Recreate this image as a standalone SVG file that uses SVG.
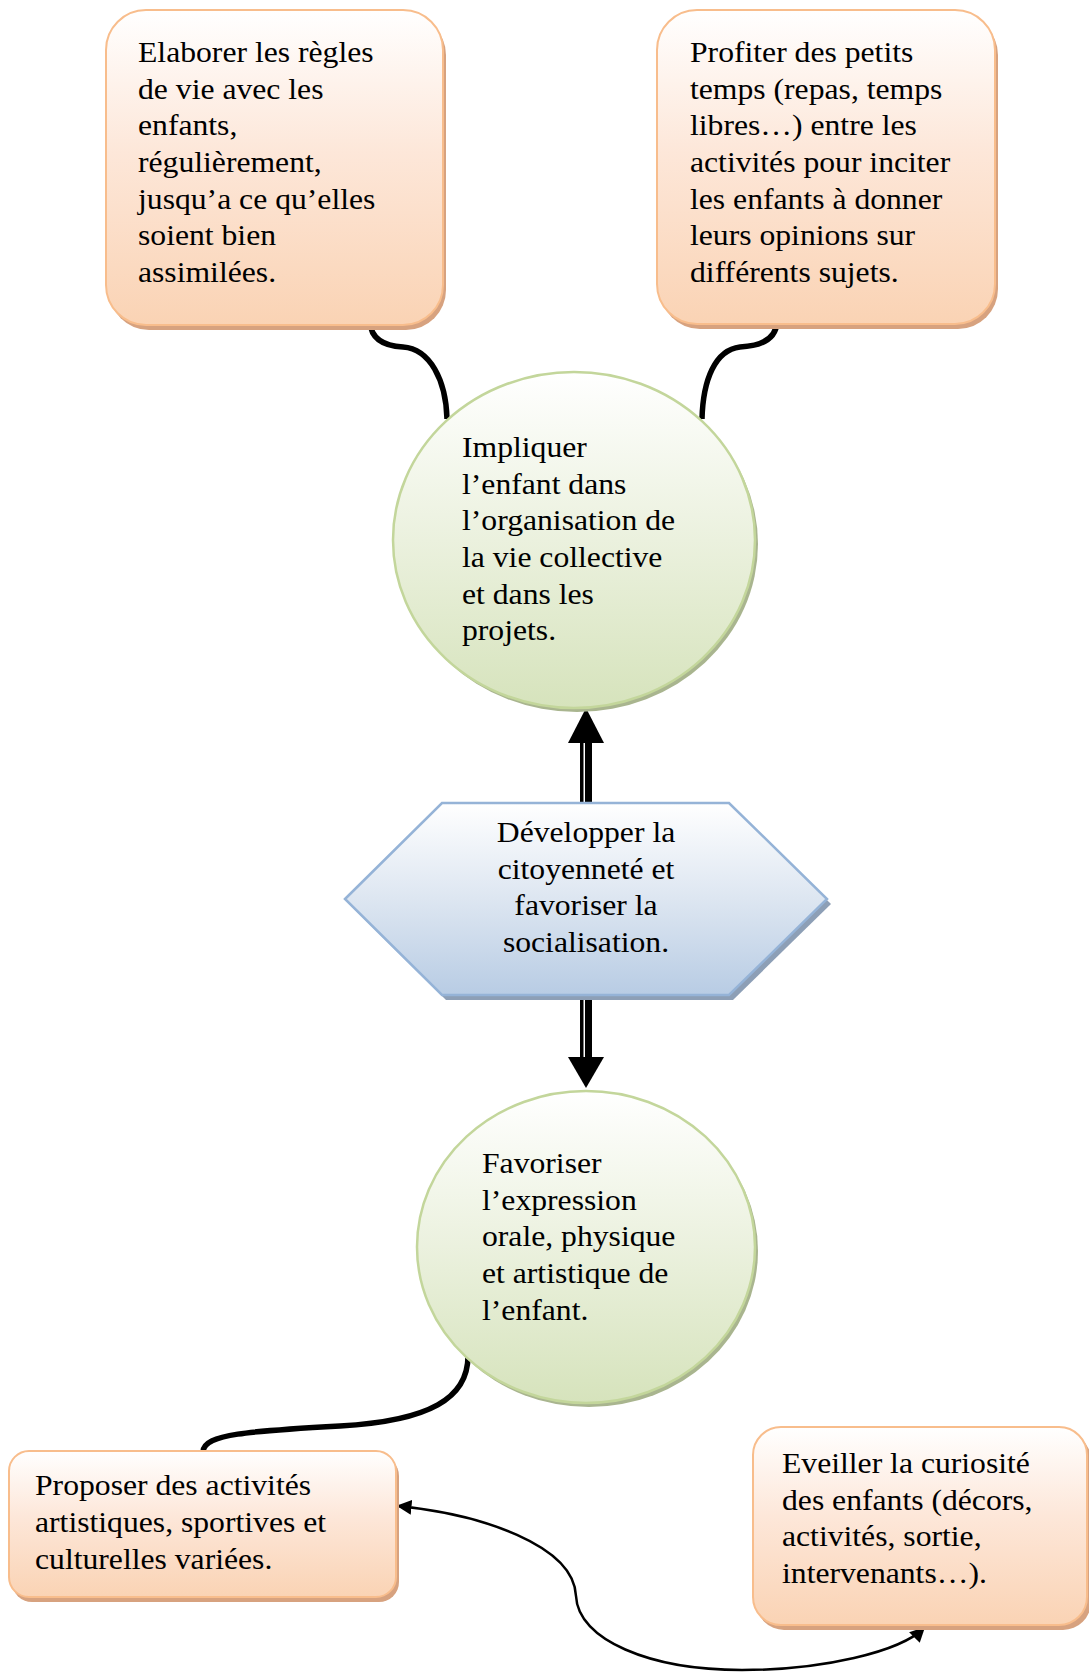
<svg xmlns="http://www.w3.org/2000/svg" width="1089" height="1673" viewBox="0 0 1089 1673">
<defs>
<linearGradient id="gOrange" x1="0" y1="0" x2="0" y2="1">
<stop offset="0" stop-color="#ffffff"/>
<stop offset="0.45" stop-color="#fde7d9"/>
<stop offset="1" stop-color="#fad3b4"/>
</linearGradient>
<linearGradient id="gGreen" x1="0" y1="0" x2="0" y2="1">
<stop offset="0" stop-color="#ffffff"/>
<stop offset="0.5" stop-color="#ebf1de"/>
<stop offset="1" stop-color="#d6e3bc"/>
</linearGradient>
<linearGradient id="gBlue" x1="0" y1="0" x2="0" y2="1">
<stop offset="0" stop-color="#ffffff"/>
<stop offset="0.5" stop-color="#dde6f1"/>
<stop offset="1" stop-color="#b8cce4"/>
</linearGradient>
<marker id="ah" viewBox="0 0 10 10" refX="9" refY="5" markerWidth="6" markerHeight="6" markerUnits="strokeWidth" orient="auto-start-reverse">
<path d="M0,0 L10,5 L0,10 Z" fill="#000"/>
</marker>
</defs>
<style>
.box{fill:url(#gOrange);stroke:#f8bd8c;stroke-width:2}
.boxsh{fill:#d7a27f}
.circ{fill:url(#gGreen);stroke:#c3d69b;stroke-width:2.5}
.circsh{fill:#a9b58f}
.hex{fill:url(#gBlue);stroke:#95b3d7;stroke-width:2.5}
.hexsh{fill:#8d9fb6}
.t{font-family:"Liberation Serif","Times New Roman",serif;font-size:29.6px;fill:#000}
.conn{fill:none;stroke:#000;stroke-width:5.5}
.thin{fill:none;stroke:#000;stroke-width:2.5}
</style>

<g id="connectors">
<path class="conn" d="M370,322 C371,340 385,346 403,347 C430,349 446,380 447,419"/>
<path class="conn" d="M777,322 C776,340 760,346 740,347 C715,350 703,380 702,419"/>
<path class="conn" d="M468,1356 C468,1398 430,1421 340,1426 C250,1431 203,1434 203,1452"/>
<path class="thin" d="M398,1506 C480,1514 574,1545 576,1596 C578,1640 650,1670 742,1670 C822,1670 900,1652 924,1628" marker-start="url(#ah)" marker-end="url(#ah)"/>
<g id="arrow-up">
<rect x="580" y="741" width="12" height="63" fill="#000"/>
<rect x="583.5" y="741" width="1.5" height="63" fill="#fff"/>
<path d="M586,708 L604,743 L568,743 Z" fill="#000"/>
</g>
<g id="arrow-down">
<rect x="580" y="994" width="12" height="65" fill="#000"/>
<rect x="583.5" y="994" width="1.5" height="65" fill="#fff"/>
<path d="M586,1088 L604,1057 L568,1057 Z" fill="#000"/>
</g>
</g>

<g id="node-elaborer">
<rect class="boxsh" x="109" y="15" width="337" height="315" rx="40"/>
<rect class="box" x="106" y="10" width="337" height="315" rx="40"/>
<g transform="translate(138,62) scale(1.07,1)">
<text class="t" x="0" y="0"><tspan x="0" y="0">Elaborer les règles</tspan><tspan x="0" y="36.7">de vie avec les</tspan><tspan x="0" y="73.4">enfants,</tspan><tspan x="0" y="110.1">régulièrement,</tspan><tspan x="0" y="146.8">jusqu’a ce qu’elles</tspan><tspan x="0" y="183.5">soient bien</tspan><tspan x="0" y="220.2">assimilées.</tspan></text>
</g>
</g>

<g id="node-profiter">
<rect class="boxsh" x="660" y="15" width="338" height="314" rx="40"/>
<rect class="box" x="657" y="10" width="338" height="314" rx="40"/>
<g transform="translate(690,62) scale(1.07,1)">
<text class="t" x="0" y="0"><tspan x="0" y="0">Profiter des petits</tspan><tspan x="0" y="36.7">temps (repas, temps</tspan><tspan x="0" y="73.4">libres…) entre les</tspan><tspan x="0" y="110.1">activités pour inciter</tspan><tspan x="0" y="146.8">les enfants à donner</tspan><tspan x="0" y="183.5">leurs opinions sur</tspan><tspan x="0" y="220.2">différents sujets.</tspan></text>
</g>
</g>

<g id="node-impliquer">
<ellipse class="circsh" cx="577" cy="544" rx="181" ry="168"/>
<ellipse class="circ" cx="574" cy="540" rx="181" ry="168"/>
<g transform="translate(462,457) scale(1.07,1)">
<text class="t" x="0" y="0"><tspan x="0" y="0">Impliquer</tspan><tspan x="0" y="36.7">l’enfant dans</tspan><tspan x="0" y="73.4">l’organisation de</tspan><tspan x="0" y="110.1">la vie collective</tspan><tspan x="0" y="146.8">et dans les</tspan><tspan x="0" y="183.5">projets.</tspan></text>
</g>
</g>

<g id="node-developper">
<polygon class="hexsh" points="349,904 446,808 733,808 831,904 733,1000 446,1000"/>
<polygon class="hex" points="345,899 442,803 729,803 827,899 729,995 442,995"/>
<g transform="translate(586,842) scale(1.07,1)">
<text class="t" x="0" y="0" text-anchor="middle"><tspan x="0" y="0">Développer la</tspan><tspan x="0" y="36.7">citoyenneté et</tspan><tspan x="0" y="73.4">favoriser la</tspan><tspan x="0" y="110.1">socialisation.</tspan></text>
</g>
</g>

<g id="node-favoriser">
<ellipse class="circsh" cx="589" cy="1251" rx="169" ry="156"/>
<ellipse class="circ" cx="586" cy="1247" rx="169" ry="156"/>
<g transform="translate(482,1173) scale(1.07,1)">
<text class="t" x="0" y="0"><tspan x="0" y="0">Favoriser</tspan><tspan x="0" y="36.7">l’expression</tspan><tspan x="0" y="73.4">orale, physique</tspan><tspan x="0" y="110.1">et artistique de</tspan><tspan x="0" y="146.8">l’enfant.</tspan></text>
</g>
</g>

<g id="node-proposer">
<rect class="boxsh" x="12" y="1456" width="387" height="146" rx="20"/>
<rect class="box" x="9" y="1451" width="387" height="146" rx="20"/>
<g transform="translate(35,1495) scale(1.07,1)">
<text class="t" x="0" y="0"><tspan x="0" y="0">Proposer des activités</tspan><tspan x="0" y="37">artistiques, sportives et</tspan><tspan x="0" y="74">culturelles variées.</tspan></text>
</g>
</g>

<g id="node-eveiller">
<rect class="boxsh" x="756" y="1432" width="335" height="198" rx="28"/>
<rect class="box" x="753" y="1427" width="334" height="198" rx="28"/>
<g transform="translate(782,1473) scale(1.07,1)">
<text class="t" x="0" y="0"><tspan x="0" y="0">Eveiller la curiosité</tspan><tspan x="0" y="36.7">des enfants (décors,</tspan><tspan x="0" y="73.4">activités, sortie,</tspan><tspan x="0" y="110.1">intervenants…).</tspan></text>
</g>
</g>
</svg>
